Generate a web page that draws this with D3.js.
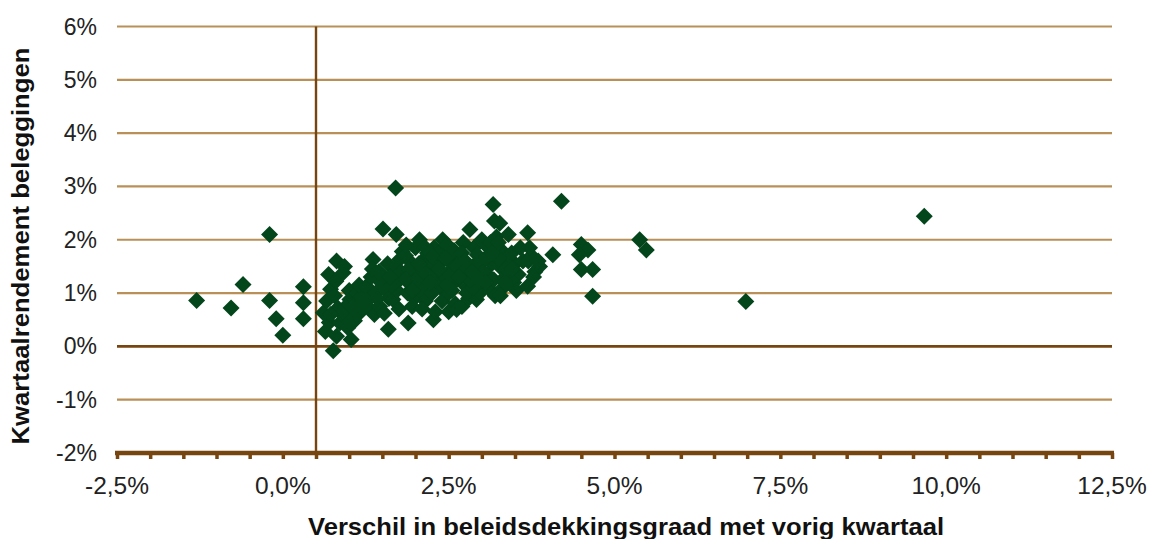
<!DOCTYPE html>
<html><head><meta charset="utf-8">
<script src="https://cdn.jsdelivr.net/npm/d3@7"></script>
<style>body{margin:0;background:#fff}svg{display:block}</style>
</head><body>
<svg id="c" width="1154" height="539"></svg>
<script>
const xTicks = [-2.5, 0, 2.5, 5, 7.5, 10, 12.5];
const yTicks = [-2, -1, 0, 1, 2, 3, 4, 5, 6];
const xTitle = "Verschil in beleidsdekkingsgraad met vorig kwartaal";
const yTitle = "Kwartaalrendement beleggingen";
const xVals = [
-1.30,-0.78,-0.60,-0.20,-0.20,-0.10,0.00,0.31,0.31,0.31,
0.61,0.64,0.69,0.72,0.66,0.70,
0.76,0.81,0.81,0.86,0.78,0.83,0.80,
0.91,0.96,1.01,1.03,0.93,0.98,0.95,1.00,
1.16,1.10,1.12,1.18,1.08,1.20,1.15,
1.26,1.36,1.30,1.33,1.28,1.40,1.38,1.35,
1.46,1.51,1.51,1.59,1.55,1.48,1.58,1.60,1.53,1.45,
1.66,1.70,1.71,1.76,1.76,1.68,1.72,1.80,1.75,1.78,1.65,
1.89,1.88,1.92,1.95,1.85,2.00,1.90,1.98,1.86,1.95,2.00,
2.06,2.10,2.12,2.08,2.15,2.18,2.05,2.20,2.15,2.10,
2.27,2.30,2.28,2.35,2.32,2.38,2.25,2.40,2.41,2.30,2.36,2.26,
2.50,2.48,2.52,2.55,2.58,2.45,2.50,2.60,2.55,2.47,2.62,2.58,
2.70,2.72,2.68,2.75,2.78,2.66,2.80,2.82,2.74,2.70,2.77,
2.92,2.88,2.95,2.90,2.98,2.86,3.00,2.93,2.97,2.87,
3.12,3.17,3.19,3.10,3.15,3.08,3.20,3.05,3.18,3.13,3.22,
3.27,3.27,3.30,3.35,3.32,3.38,3.25,3.40,3.28,3.36,
3.50,3.45,3.55,3.62,3.48,3.58,3.52,
3.69,3.69,3.87,3.75,3.80,3.70,3.78,3.85,3.72,
1.90,2.02,2.12,2.22,2.32,2.42,2.52,2.62,2.72,2.82,2.92,3.02,
1.95,2.05,2.25,2.45,2.65,2.85,3.05,3.25,3.45,
1.85,2.15,2.35,2.55,2.75,2.95,3.15,3.35,
1.22,1.42,1.62,1.05,0.88,0.72,
4.07,4.20,4.50,4.60,4.47,4.50,4.67,4.67,5.38,5.48,6.98,9.67
];
const yVals = [
0.86,0.72,1.16,2.10,0.86,0.52,0.21,1.12,0.82,0.52,
0.63,0.28,1.35,1.07,0.85,0.45,
-0.08,0.19,1.60,0.44,0.95,0.72,1.22,
1.38,0.57,0.88,0.13,1.50,0.35,0.75,1.05,
0.63,0.80,1.00,0.92,0.48,0.70,1.15,
1.13,1.63,0.90,1.30,0.75,1.00,0.60,1.45,
0.75,1.31,2.20,0.32,1.05,1.20,1.55,0.90,0.62,1.40,
0.88,2.97,2.10,1.63,1.25,1.45,1.05,1.78,0.70,1.40,1.15,
0.44,1.00,1.20,1.55,1.70,1.85,1.35,0.90,1.90,0.75,1.10,
2.00,1.60,1.30,1.05,0.85,1.75,1.45,1.15,1.50,0.70,
0.50,0.65,1.85,1.60,1.35,1.10,1.00,0.85,2.00,1.25,1.75,1.50,
0.65,1.90,1.70,1.45,1.20,1.30,1.00,0.80,1.55,1.15,0.69,1.80,
0.75,1.95,1.60,1.35,1.10,1.25,0.90,2.19,1.50,1.75,1.00,
0.88,1.85,1.60,1.30,1.15,1.45,2.00,1.72,1.00,1.10,
1.07,2.66,2.35,1.85,1.55,1.35,0.95,1.65,1.25,1.95,2.05,
1.50,2.31,1.80,1.30,1.10,1.65,1.95,2.10,0.95,1.45,
1.55,1.75,1.35,1.60,1.20,1.85,1.05,
2.13,1.13,1.50,1.70,1.40,1.60,1.30,1.60,1.85,
1.45,1.25,1.40,1.20,1.50,1.65,1.35,1.50,1.40,1.25,1.55,1.40,
1.05,1.55,1.70,1.65,1.30,1.40,1.20,1.65,1.45,
1.25,1.85,1.45,1.05,1.60,1.25,1.75,1.20,
0.85,0.90,1.30,0.72,0.62,0.60,
1.72,2.72,1.91,1.81,1.72,1.44,1.44,0.94,2.00,1.81,0.84,2.44
];

const svg = d3.select("#c");
const x = d3.scaleLinear().domain([-2.5, 12.5]).range([117, 1112]);
const y = d3.scaleLinear().domain([-2, 6]).range([453, 26.5]);
const gridCol = "#b89058", axisCol = "#764510", dotCol = "#03461b";
const fontTick = "'Liberation Sans', Arial, sans-serif";

// horizontal gridlines
svg.append("g").selectAll("line").data(yTicks.filter(d => d > -2)).join("line")
  .attr("x1", x(-2.5)).attr("x2", x(12.5))
  .attr("y1", d => y(d)).attr("y2", d => y(d))
  .attr("stroke", d => d === 0 ? axisCol : gridCol)
  .attr("stroke-width", d => d === 0 ? 2.6 : 2.2);

// vertical axis line (crossing at 0.5%)
svg.append("line").attr("x1", x(0.5)).attr("x2", x(0.5))
  .attr("y1", y(6)).attr("y2", y(-2))
  .attr("stroke", axisCol).attr("stroke-width", 2.4);

// y tick labels
svg.append("g").selectAll("text").data(yTicks).join("text")
  .attr("x", 97).attr("y", d => y(d) + 8)
  .attr("text-anchor", "end")
  .attr("font-family", fontTick).attr("font-size", 23).attr("fill", "#222")
  .text(d => d + "%");

// x axis line with ticks
const xAxis = d3.axisBottom(x).tickValues(d3.range(-2.5, 12.51, 0.5)).tickSize(6).tickFormat("");
const gx = svg.append("g").attr("transform", `translate(0,${y(-2)})`).call(xAxis);
gx.select(".domain").attr("stroke", axisCol).attr("stroke-width", 4.5).attr("d", `M${x(-2.5)-2},0H${x(12.5)+2}`);
gx.selectAll(".tick line").attr("stroke", axisCol).attr("stroke-width", 3.5);

// x tick labels
svg.append("g").selectAll("text").data(xTicks).join("text")
  .attr("x", d => x(d)).attr("y", 494)
  .attr("text-anchor", "middle")
  .attr("font-family", fontTick).attr("font-size", 24.5).attr("fill", "#222")
  .text(d => d3.format(".1f")(d).replace(".", ",").replace("−", "-") + "%");

// points
const pts = xVals.map((v, i) => [v, yVals[i]]);
svg.append("g").selectAll("path").data(pts).join("path")
  .attr("transform", d => `translate(${x(d[0])},${y(d[1])})`)
  .attr("d", "M0,-8.5L8.5,0L0,8.5L-8.5,0Z")
  .attr("fill", dotCol);

// axis titles
svg.append("text").attr("x", 626).attr("y", 535).attr("text-anchor", "middle")
  .attr("font-family", fontTick).attr("font-weight", "bold").attr("font-size", 24).attr("fill", "#111")
  .attr("textLength", 636).attr("lengthAdjust", "spacingAndGlyphs")
  .text(xTitle);
svg.append("text").attr("transform", "translate(29,246) rotate(-90)").attr("text-anchor", "middle")
  .attr("font-family", fontTick).attr("font-weight", "bold").attr("font-size", 24).attr("fill", "#111")
  .attr("textLength", 397).attr("lengthAdjust", "spacingAndGlyphs")
  .text(yTitle);
</script>
</body></html>
